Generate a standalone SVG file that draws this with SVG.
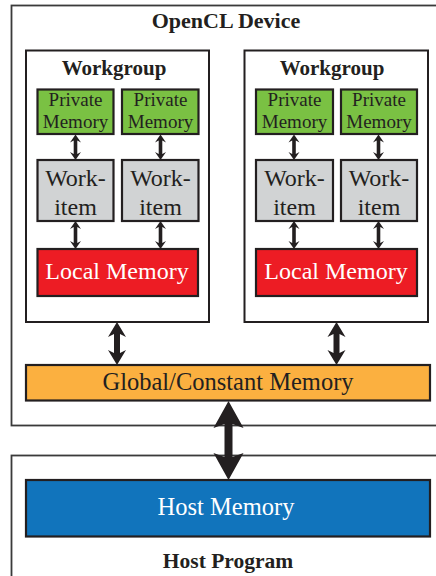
<svg xmlns="http://www.w3.org/2000/svg" width="436" height="576" viewBox="0 0 436 576">
<style>
.outer{fill:#fff;stroke:#3a3a3a;stroke-width:1.8}
.wg{fill:#fff;stroke:#231f20;stroke-width:2}
.box{stroke:#231f20;stroke-width:2.2}
.priv{fill:#7ac143}
.wi{fill:#d1d3d4}
.loc{fill:#ed1c24}
.glob{fill:#fbb040}
.host{fill:#1174bc}
text{font-family:"Liberation Serif","Times New Roman",serif;fill:#231f20;text-anchor:middle}
.b{font-weight:bold}
.w{fill:#fff}
.arr{fill:#231f20}
</style>
<g id="device">
<rect class="outer" x="11.5" y="5.5" width="440" height="420"/>
<text class="b" x="226" y="28" font-size="22">OpenCL Device</text>
</g>
<g id="hostprogram">
<rect class="outer" x="11.5" y="455.5" width="440" height="140"/>
<text class="b" x="228" y="568" font-size="21.5">Host Program</text>
</g>
<g id="workgroup1">
<rect class="wg" x="26" y="50.5" width="183" height="271.5"/>
<text class="b" x="114" y="75" font-size="21">Workgroup</text>
</g>
<g id="workgroup2">
<rect class="wg" x="244.5" y="50.5" width="183.5" height="271.5"/>
<text class="b" x="332" y="75" font-size="21">Workgroup</text>
</g>
<g id="private1">
<rect class="box priv" x="37.5" y="89.5" width="76" height="44.5"/>
<text x="75.5" y="106" font-size="19">Private</text><text x="75.5" y="128" font-size="19">Memory</text>
</g>
<g id="private2">
<rect class="box priv" x="122" y="89.5" width="76.5" height="44.5"/>
<text x="160.5" y="106" font-size="19">Private</text><text x="160.5" y="128" font-size="19">Memory</text>
</g>
<g id="private3">
<rect class="box priv" x="256" y="89.5" width="77" height="44.5"/>
<text x="294.5" y="106" font-size="19">Private</text><text x="294.5" y="128" font-size="19">Memory</text>
</g>
<g id="private4">
<rect class="box priv" x="341" y="89.5" width="76" height="44.5"/>
<text x="379" y="106" font-size="19">Private</text><text x="379" y="128" font-size="19">Memory</text>
</g>
<g id="workitem1">
<rect class="box wi" x="37.5" y="160" width="76" height="61"/>
<text x="75.5" y="186" font-size="24">Work-</text><text x="75.5" y="215" font-size="24">item</text>
</g>
<g id="workitem2">
<rect class="box wi" x="122" y="160" width="76.5" height="61"/>
<text x="160.5" y="186" font-size="24">Work-</text><text x="160.5" y="215" font-size="24">item</text>
</g>
<g id="workitem3">
<rect class="box wi" x="256" y="160" width="77" height="61"/>
<text x="294.5" y="186" font-size="24">Work-</text><text x="294.5" y="215" font-size="24">item</text>
</g>
<g id="workitem4">
<rect class="box wi" x="341" y="160" width="76" height="61"/>
<text x="379" y="186" font-size="24">Work-</text><text x="379" y="215" font-size="24">item</text>
</g>
<g id="local1">
<rect class="box loc" x="37.5" y="249" width="160.5" height="47"/>
<text class="w" x="117" y="279" font-size="24">Local Memory</text>
</g>
<g id="local2">
<rect class="box loc" x="256" y="249" width="161" height="47"/>
<text class="w" x="336" y="279" font-size="24">Local Memory</text>
</g>
<g id="global">
<rect class="box glob" x="26" y="365" width="404" height="35.5"/>
<text x="228" y="390" font-size="24.5">Global/Constant Memory</text>
</g>
<g id="hostmemory">
<rect class="box host" x="26" y="480" width="404" height="56.5"/>
<text class="w" x="226" y="515" font-size="24.5">Host Memory</text>
</g>
<g id="connectors" class="arr">
<path d="M75.5,134.5 L81,142.5 L77.3,140.5 L77.3,154 L81,152 L75.5,160 L70,152 L73.7,154 L73.7,140.5 L70,142.5Z"/>
<path d="M160.5,134.5 L166,142.5 L162.3,140.5 L162.3,154 L166,152 L160.5,160 L155,152 L158.7,154 L158.7,140.5 L155,142.5Z"/>
<path d="M294,134.5 L299.5,142.5 L295.8,140.5 L295.8,154 L299.5,152 L294,160 L288.5,152 L292.2,154 L292.2,140.5 L288.5,142.5Z"/>
<path d="M378.5,134.5 L384,142.5 L380.3,140.5 L380.3,154 L384,152 L378.5,160 L373,152 L376.7,154 L376.7,140.5 L373,142.5Z"/>
<path d="M75.5,221 L81,229 L77.3,227 L77.3,243 L81,241 L75.5,249 L70,241 L73.7,243 L73.7,227 L70,229Z"/>
<path d="M160.5,221 L166,229 L162.3,227 L162.3,243 L166,241 L160.5,249 L155,241 L158.7,243 L158.7,227 L155,229Z"/>
<path d="M294,221 L299.5,229 L295.8,227 L295.8,243 L299.5,241 L294,249 L288.5,241 L292.2,243 L292.2,227 L288.5,229Z"/>
<path d="M378.5,221 L384,229 L380.3,227 L380.3,243 L384,241 L378.5,249 L373,241 L376.7,243 L376.7,227 L373,229Z"/>
<path d="M117,322 L126,337 L120,334 L120,353 L126,350 L117,365 L108,350 L114,353 L114,334 L108,337Z"/>
<path d="M336.5,322 L345.5,337 L339.5,334 L339.5,353 L345.5,350 L336.5,365 L327.5,350 L333.5,353 L333.5,334 L327.5,337Z"/>
<path d="M228.5,401 L243.5,428 L232.5,424 L232.5,457 L243.5,453 L228.5,480 L213.5,453 L224.5,457 L224.5,424 L213.5,428Z"/>
</g>
</svg>
